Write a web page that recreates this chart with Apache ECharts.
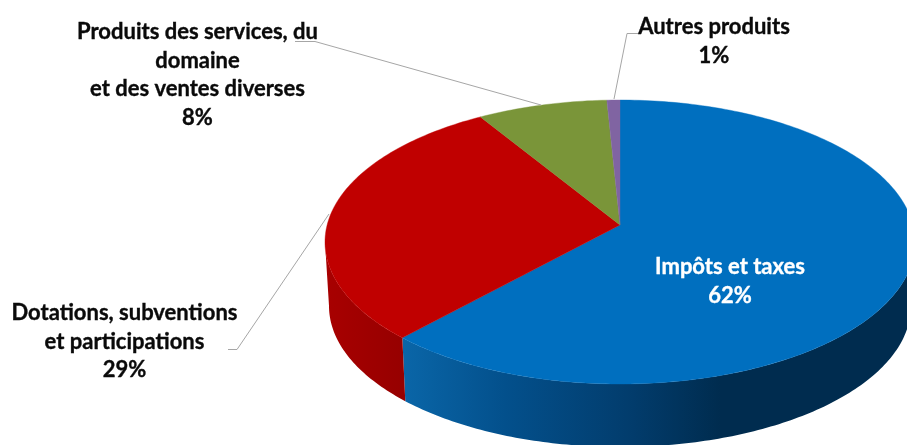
<!DOCTYPE html>
<html><head><meta charset="utf-8">
<style>html,body{margin:0;padding:0;background:#fff}#c{width:907px;height:445px}</style>
<script src="https://cdn.jsdelivr.net/npm/echarts@6/dist/echarts.min.js"></script>
</head><body><div id="c"></div>
<script>
const categories = ["Impôts et taxes", "Dotations, subventions\net participations", "Produits des services, du\ndomaine\net des ventes diverses", "Autres produits"];
const values = [61.85, 29.35, 8.0, 0.8];
const percentLabels = ["62%", "29%", "8%", "1%"];
const topColors = ["#006fbf", "#c00000", "#7a9539", "#8064a2"];
const wallStops = [
  [[0, "#0a66a8"], [0.2, "#03508c"], [0.45, "#023c6c"], [0.62, "#002c4f"], [1, "#002c4f"]],
  [[0, "#a80000"], [1, "#960000"]],
  [[0, "#5f742c"], [1, "#5f742c"]],
  [[0, "#644e80"], [1, "#644e80"]]
];
const labelCentres = [[730, 281.5], [124.5, 341.5], [197.5, 75], [714, 41.5]];
const labelColors = ["#ffffff", "#0a0a0a", "#0a0a0a", "#0a0a0a"];
const leaders = [null, [[228, 349.5], [237, 349.5], [329, 214]], [[295, 41.5], [315, 41.5], [541, 105]], [[638, 33.5], [627, 33.5], [614, 99]]];

const topFace = {cx: 620, cy: 242, rx: 295, ry: 142};
const baseFace = {cx: 620, cy: 306, rx: 291, ry: 141};
const tilt = 0.12;   // perspective shift of the pie centre
const total = values.reduce((a, b) => a + b, 0);

// disc -> disc projective map: clockwise angle from top -> normalised ellipse coords
function project(theta, r) {
  const x = r * Math.sin(theta), y = -r * Math.cos(theta);
  const d = 1 - tilt * y;
  return [x * Math.sqrt(1 - tilt * tilt) / d, (y - tilt) / d];
}
const toEllipse = (e, p) => [e.cx + p[0] * e.rx, e.cy + p[1] * e.ry];
function phiOf(theta) {
  const p = project(theta, 1);
  let a = Math.atan2(p[0], -p[1]);
  if (a < 0) a += 2 * Math.PI;
  return a;
}
function arc(e, a0, a1) {
  const pts = [], n = Math.max(2, Math.ceil(Math.abs(a1 - a0) * 60));
  for (let i = 0; i <= n; i++) {
    const a = a0 + (a1 - a0) * i / n;
    pts.push([e.cx + Math.sin(a) * e.rx, e.cy - Math.cos(a) * e.ry]);
  }
  return pts;
}

function renderItem(params, api) {
  const i = params.dataIndex;
  const start = values.slice(0, i).reduce((a, b) => a + b, 0) / total * 2 * Math.PI;
  const end = start + api.value(0) / total * 2 * Math.PI;
  const p0 = start === 0 ? 0 : phiOf(start);
  const p1 = Math.abs(end - 2 * Math.PI) < 1e-9 ? 2 * Math.PI : phiOf(end);
  const children = [];
  const w0 = Math.max(p0, Math.PI / 2), w1 = Math.min(p1, 3 * Math.PI / 2);
  if (w1 > w0) {
    const pts = arc(topFace, w0, w1).concat(arc(baseFace, w1, w0));
    children.push({
      type: "polygon",
      shape: {points: pts},
      style: {fill: new echarts.graphic.LinearGradient(0, 0, 1, 0,
        wallStops[i].map(s => ({offset: s[0], color: s[1]})))}
    });
  }
  const apex = toEllipse(topFace, project(0, 0));
  children.push({
    type: "polygon",
    shape: {points: [apex].concat(arc(topFace, p0, p1))},
    style: {fill: topColors[i], stroke: topColors[i], lineWidth: 0.4}
  });
  if (leaders[i]) {
    children.push({
      type: "polyline", z2: 5,
      shape: {points: leaders[i]},
      style: {fill: null, stroke: "#a6a6a6", lineWidth: 1}
    });
  }
  children.push({
    type: "text", z2: 10,
    x: labelCentres[i][0], y: labelCentres[i][1],
    style: {
      text: categories[i] + "\n" + percentLabels[i],
      fill: labelColors[i],
      stroke: labelColors[i], lineWidth: 0.35,
      font: 'bold 22px Lato, "Open Sans", sans-serif',
      lineHeight: 28.5, align: "center", verticalAlign: "middle"
    }
  });
  return {type: "group", children};
}

const chart = echarts.init(document.getElementById("c"), null, {renderer: "canvas"});
chart.setOption({
  animation: false,
  backgroundColor: "#ffffff",
  series: [{
    type: "custom",
    coordinateSystem: "none",
    renderItem,
    clip: false,
    data: values.map((v, i) => ({name: categories[i], value: [v]}))
  }]
});
</script></body></html>
